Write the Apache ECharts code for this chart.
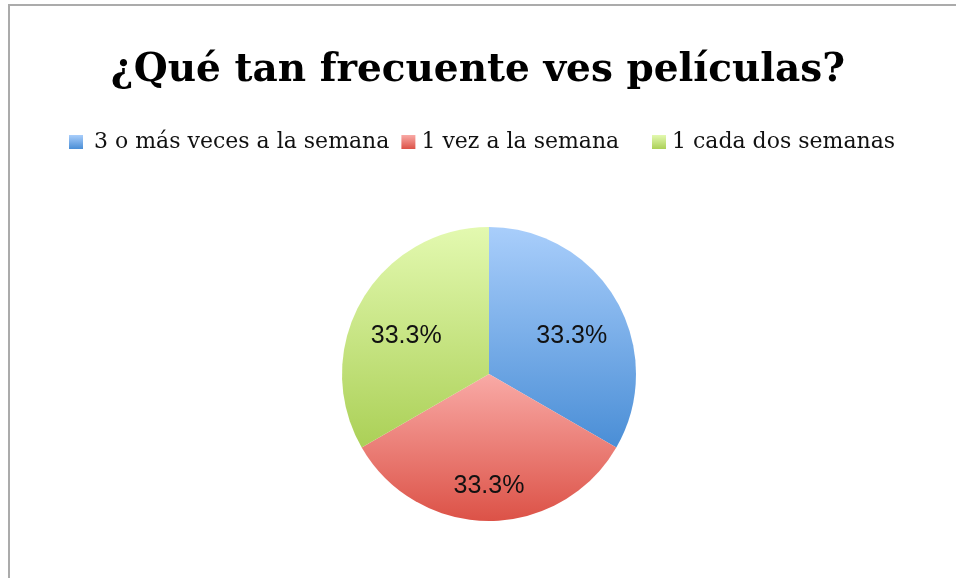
<!DOCTYPE html>
<html>
<head>
<meta charset="utf-8">
<script src="https://cdn.jsdelivr.net/npm/echarts@6/dist/echarts.min.js"></script>
<style>
  html, body { margin: 0; padding: 0; background: #fff; }
  #chart { width: 956px; height: 578px; }
</style>
</head>
<body>
<div id="chart"></div>
<script>
const titleText = '¿Qué tan frecuente ves películas?';
const categories = ['3 o más veces a la semana', '1 vez a la semana', '1 cada dos semanas'];
const values = [1, 1, 1];
// top / bottom colour of each slice's gradient
const topColors = ['#a9cefb', '#f9aaa6', '#e3f9b0'];
const bottomColors = ['#4a8ed6', '#dc5247', '#abd057'];

const pieCenter = [489, 374];
const total = values.reduce((a, b) => a + b, 0);

const chart = echarts.init(document.getElementById('chart'));

const grad = (i) => new echarts.graphic.LinearGradient(0, 0, 0, 1, [
  { offset: 0, color: topColors[i] },
  { offset: 1, color: bottomColors[i] }
]);

// legend slots are not evenly spaced in the original, so two legend boxes
const legendBase = {
  top: 131,
  padding: 0,
  icon: 'rect',
  itemWidth: 14,
  itemHeight: 14,
  itemGap: 12,
  textStyle: {
    fontFamily: 'DejaVu Serif',
    fontSize: 22,
    color: '#111',
    padding: [0, 0, 0, 1]
  }
};

const option = {
  animation: false,
  backgroundColor: '#fff',
  title: {
    text: titleText,
    left: 'center',
    top: 46,
    textStyle: {
      fontFamily: 'DejaVu Serif',
      fontWeight: 'bold',
      fontSize: 39,
      color: '#000'
    }
  },
  legend: [
    {
      ...legendBase,
      left: 69,
      data: [
        { name: categories[0], textStyle: { padding: [0, 0, 0, 6] } },
        { name: categories[1] }
      ]
    },
    {
      ...legendBase,
      left: 652,
      data: [{ name: categories[2] }]
    }
  ],
  graphic: [{
    type: 'rect',
    silent: true,
    shape: { x: 9, y: 5, width: 1000, height: 1000 },
    style: { fill: 'none', stroke: '#ababab', lineWidth: 2 }
  }],
  series: [{
    type: 'pie',
    center: pieCenter,
    radius: 147,
    startAngle: 90,
    clockwise: true,
    label: {
      position: 'inside',
      formatter: (p) => (p.value / total * 100).toFixed(1) + '%',
      fontFamily: 'Liberation Sans',
      fontSize: 25,
      color: '#111'
    },
    labelLine: { show: false },
    labelLayout: (p) => {
      const cx = p.labelRect.x + p.labelRect.width / 2;
      const cy = p.labelRect.y + p.labelRect.height / 2;
      const bottom = p.dataIndex === 1;
      const kx = 1.25, ky = bottom ? 1.46 : 1.0;
      return { dx: (cx - pieCenter[0]) * (kx - 1), dy: (cy - pieCenter[1]) * (ky - 1) };
    },
    emphasis: { disabled: true },
    data: categories.map((name, i) => ({
      name,
      value: values[i],
      itemStyle: { color: grad(i), borderWidth: 0 }
    }))
  }]
};

chart.setOption(option);
</script>
</body>
</html>
